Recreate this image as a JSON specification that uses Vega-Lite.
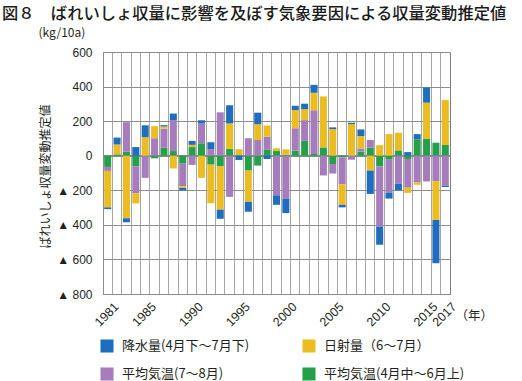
{
  "$schema": "https://vega.github.io/schema/vega-lite/v6.json",
  "width": 347,
  "height": 242,
  "autosize": {"type": "none"},
  "padding": {"left": 103, "top": 52, "right": 72, "bottom": 87},
  "background": "white",
  "title": {"text": "図８　ばれいしょ収量に影響を及ぼす気象要因による収量変動推定値", "anchor": "start", "frame": "group", "dx": -101, "dy": 4, "fontSize": 16.3, "fontWeight": 500, "font": "Noto Sans CJK JP", "color": "#1a1a1a", "offset": 8},
  "config": {"font": "Noto Sans CJK JP", "view": {"stroke": "#7f7f7f"}},
  "data": {"values": [
    {"year": 1981, "平均気温(4月中～6月上)": -65, "平均気温(7～8月)": -23, "日射量（6～7月）": -211, "降水量(4月下～7月下)": -10},
    {"year": 1982, "平均気温(4月中～6月上)": 8, "平均気温(7～8月)": 0, "日射量（6～7月）": 57, "降水量(4月下～7月下)": 40},
    {"year": 1983, "平均気温(4月中～6月上)": 23, "平均気温(7～8月)": 171, "日射量（6～7月）": -362, "降水量(4月下～7月下)": -23},
    {"year": 1984, "平均気温(4月中～6月上)": -61, "平均気温(7～8月)": -156, "日射量（6～7月）": -59, "降水量(4月下～7月下)": 50},
    {"year": 1985, "平均気温(4月中～6月上)": 0, "平均気温(7～8月)": -128, "日射量（6～7月）": 107, "降水量(4月下～7月下)": 69},
    {"year": 1986, "平均気温(4月中～6月上)": -15, "平均気温(7～8月)": 101, "日射量（6～7月）": 70, "降水量(4月下～7月下)": 0},
    {"year": 1987, "平均気温(4月中～6月上)": 46, "平均気温(7～8月)": 110, "日射量（6～7月）": 13, "降水量(4月下～7月下)": 8},
    {"year": 1988, "平均気温(4月中～6月上)": 27, "平均気温(7～8月)": 179, "日射量（6～7月）": -74, "降水量(4月下～7月下)": 38},
    {"year": 1989, "平均気温(4月中～6月上)": -46, "平均気温(7～8月)": -130, "日射量（6～7月）": -10, "降水量(4月下～7月下)": -15},
    {"year": 1990, "平均気温(4月中～6月上)": 50, "平均気温(7～8月)": -53, "日射量（6～7月）": 13, "降水量(4月下～7月下)": 23},
    {"year": 1991, "平均気温(4月中～6月上)": 72, "平均気温(7～8月)": 114, "日射量（6～7月）": -128, "降水量(4月下～7月下)": 19},
    {"year": 1992, "平均気温(4月中～6月上)": -52, "平均気温(7～8月)": 38, "日射量（6～7月）": -223, "降水量(4月下～7月下)": 40},
    {"year": 1993, "平均気温(4月中～6月上)": -61, "平均気温(7～8月)": 251, "日射量（6～7月）": -251, "降水量(4月下～7月下)": -53},
    {"year": 1994, "平均気温(4月中～6月上)": 40, "平均気温(7～8月)": -238, "日射量（6～7月）": 147, "降水量(4月下～7月下)": 105},
    {"year": 1995, "平均気温(4月中～6月上)": 3, "平均気温(7～8月)": 0, "日射量（6～7月）": 35, "降水量(4月下～7月下)": -25},
    {"year": 1996, "平均気温(4月中～6月上)": -86, "平均気温(7～8月)": 101, "日射量（6～7月）": -181, "降水量(4月下～7月下)": -57},
    {"year": 1997, "平均気温(4月中～6月上)": -57, "平均気温(7～8月)": 91, "日射量（6～7月）": 91, "降水量(4月下～7月下)": 67},
    {"year": 1998, "平均気温(4月中～6月上)": 34, "平均気温(7～8月)": 76, "日射量（6～7月）": 65, "降水量(4月下～7月下)": -19},
    {"year": 1999, "平均気温(4月中～6月上)": 27, "平均気温(7～8月)": -229, "日射量（6～7月）": 16, "降水量(4月下～7月下)": -55},
    {"year": 2000, "平均気温(4月中～6月上)": 5, "平均気温(7～8月)": -248, "日射量（6～7月）": 32, "降水量(4月下～7月下)": -84},
    {"year": 2001, "平均気温(4月中～6月上)": 29, "平均気温(7～8月)": 130, "日射量（6～7月）": 105, "降水量(4月下～7月下)": 25},
    {"year": 2002, "平均気温(4月中～6月上)": 86, "平均気温(7～8月)": 120, "日射量（6～7月）": 63, "降水量(4月下～7月下)": 32},
    {"year": 2003, "平均気温(4月中～6月上)": 10, "平均気温(7～8月)": 253, "日射量（6～7月）": 101, "降水量(4月下～7月下)": 46},
    {"year": 2004, "平均気温(4月中～6月上)": 48, "平均気温(7～8月)": -114, "日射量（6～7月）": 295, "降水量(4月下～7月下)": 0},
    {"year": 2005, "平均気温(4月中～6月上)": -48, "平均気温(7～8月)": -55, "日射量（6～7月）": 154, "降水量(4月下～7月下)": 10},
    {"year": 2006, "平均気温(4月中～6月上)": -10, "平均気温(7～8月)": -156, "日射量（6～7月）": -118, "降水量(4月下～7月下)": -15},
    {"year": 2007, "平均気温(4月中～6月上)": 0, "平均気温(7～8月)": -23, "日射量（6～7月）": 183, "降水量(4月下～7月下)": 8},
    {"year": 2008, "平均気温(4月中～6月上)": 23, "平均気温(7～8月)": 19, "日射量（6～7月）": 72, "降水量(4月下～7月下)": 38},
    {"year": 2009, "平均気温(4月中～6月上)": 46, "平均気温(7～8月)": 45, "日射量（6～7月）": -86, "降水量(4月下～7月下)": -135},
    {"year": 2010, "平均気温(4月中～6月上)": -61, "平均気温(7～8月)": -349, "日射量（6～7月）": 61, "降水量(4月下～7月下)": -105},
    {"year": 2011, "平均気温(4月中～6月上)": -23, "平均気温(7～8月)": -190, "日射量（6～7月）": 125, "降水量(4月下～7月下)": -35},
    {"year": 2012, "平均気温(4月中～6月上)": 31, "平均気温(7～8月)": -162, "日射量（6～7月）": 102, "降水量(4月下～7月下)": -38},
    {"year": 2013, "平均気温(4月中～6月上)": -19, "平均気温(7～8月)": -166, "日射量（6～7月）": -30, "降水量(4月下～7月下)": 21},
    {"year": 2014, "平均気温(4月中～6月上)": 95, "平均気温(7～8月)": -154, "日射量（6～7月）": -14, "降水量(4月下～7月下)": 30},
    {"year": 2015, "平均気温(4月中～6月上)": 97, "平均気温(7～8月)": -149, "日射量（6～7月）": 210, "降水量(4月下～7月下)": 88},
    {"year": 2016, "平均気温(4月中～6月上)": 75, "平均気温(7～8月)": -147, "日射量（6～7月）": -225, "降水量(4月下～7月下)": -250},
    {"year": 2017, "平均気温(4月中～6月上)": 62, "平均気温(7～8月)": -173, "日射量（6～7月）": 260, "降水量(4月下～7月下)": -8}
  ]},
  "transform": [
    {"fold": ["平均気温(4月中～6月上)", "平均気温(7～8月)", "日射量（6～7月）", "降水量(4月下～7月下)"], "as": ["k", "v"]}
  ],
  "layer": [
    {
      "mark": {"type": "rule", "color": "#8c8c8c", "strokeWidth": 1},
      "encoding": {
        "y": {"datum": 0, "type": "quantitative", "axis": {"orient": "left", "labels": false, "ticks": false, "domain": false, "grid": false, "title": "ばれいしょ収量変動推定値", "titleAngle": -90, "titleX": -58, "titleY": 124, "titleAlign": "center", "titleBaseline": "middle", "titleFontSize": 12, "titleFontWeight": "normal", "titleColor": "#231f20"}}
      }
    },
    {
      "mark": {"type": "bar", "width": {"band": 0.75}},
      "encoding": {
        "x": {"field": "year", "type": "ordinal", "scale": {"paddingInner": 0, "paddingOuter": 0},
          "axis": {"bandPosition": 0, "grid": true, "gridColor": "#a6a6a6", "ticks": false, "domainColor": "#8c8c8c", "labelAngle": -45, "labelOffset": 4.7, "labelPadding": 6, "labelFontSize": 12.5, "labelFont": "Liberation Sans", "labelColor": "#231f20",
            "labelExpr": "indexof([1981,1985,1990,1995,2000,2005,2010,2015,2017], datum.value) >= 0 ? datum.label : ''",
            "title": "（年）", "titleX": 352, "titleY": 21, "titleAlign": "left", "titleBaseline": "middle", "titleFontSize": 12.5, "titleFontWeight": "normal", "titleColor": "#231f20"}},
        "y": {"field": "v", "type": "quantitative", "stack": "zero", "scale": {"domain": [-800, 600], "nice": false},
          "axis": {"orient": "left", "values": [-800, -600, -400, -200, 0, 200, 400, 600], "labelExpr": "datum.value < 0 ? '▲ ' + abs(datum.value) : datum.label", "grid": true, "gridColor": "#8c8c8c", "domainColor": "#8c8c8c", "ticks": false, "labelPadding": 11, "labelFontSize": 12, "labelFont": "Liberation Sans", "labelColor": "#231f20",
            "title": "(kg/10a)", "titleAngle": 0, "titleX": -65, "titleY": -20, "titleAlign": "left", "titleBaseline": "middle", "titleFontSize": 12, "titleFontWeight": "normal", "titleColor": "#231f20"}},
        "color": {"field": "k", "type": "nominal",
          "scale": {"domain": ["降水量(4月下～7月下)", "日射量（6～7月）", "平均気温(7～8月)", "平均気温(4月中～6月上)"], "range": ["#1f6dbf", "#ecbd22", "#a67cbc", "#24a04a"]},
          "legend": {"orient": "none", "direction": "horizontal", "legendX": -3, "legendY": 287, "columns": 2, "columnPadding": 52, "rowPadding": 14, "title": null, "symbolType": "square", "symbolSize": 170, "symbolStrokeWidth": 0, "symbolOpacity": 1, "labelFontSize": 13, "labelOffset": 8, "labelColor": "#231f20", "padding": 0}},
        "order": {"field": "k", "sort": "ascending"}
      }
    }
  ],
  "resolve": {"axis": {"y": "independent"}}
}
